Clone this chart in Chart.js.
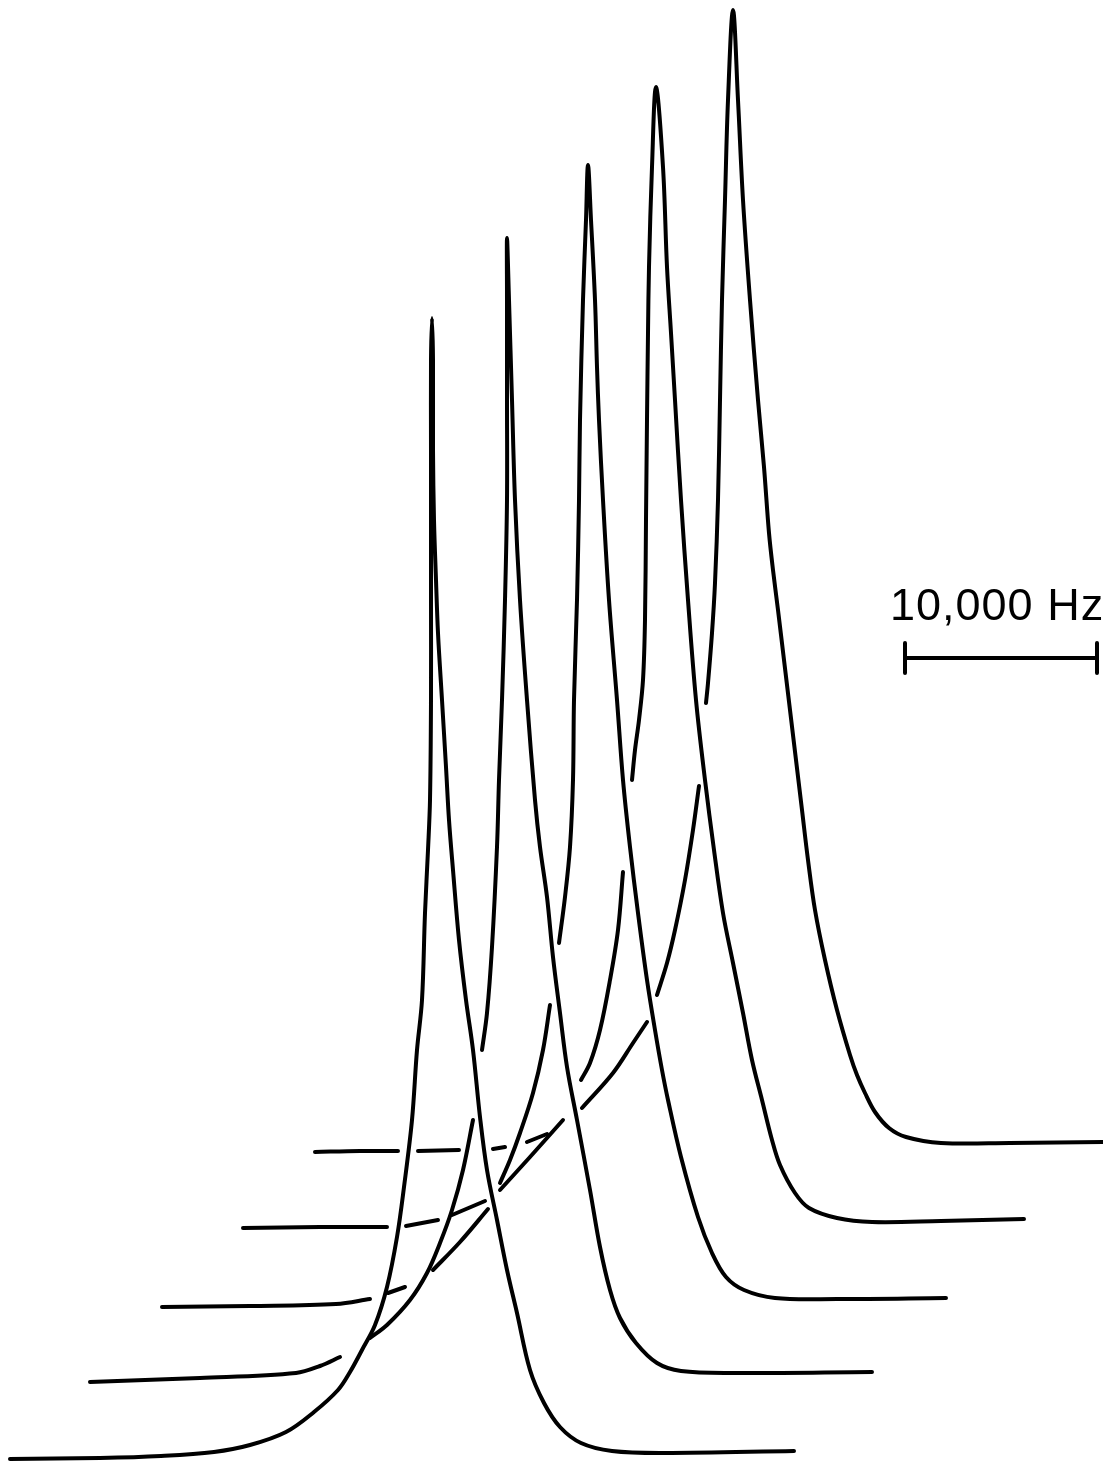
<!DOCTYPE html>
<html lang="en">
    <head>
        <meta charset="UTF-8" />
        <title>Stacked resonance traces</title>
        <script src="https://cdn.jsdelivr.net/npm/chart.js"></script>
        <style>
            html, body { margin: 0; padding: 0; background: #fff; }
            canvas { display: block; }
        </style>
    </head>
    <body>
        <canvas id="traces" width="1103" height="1464"></canvas>

        <script>
            // Five swept traces, front (1) to back (5). Plot units, x to the
            // right, y measured downward. null = pen lifted where a trace
            // passes behind a nearer one.
            const trace1X = [10, 100, 161, 214, 250, 286, 314, 338, 350, 362, 375, 387, 397, 404, 412, 417, 422, 425, 428, 430, 431, 431, 431, 431, 432,
                433, 433, 434, 436, 438, 442, 446, 449, 453, 459, 466, 473, 480, 487, 497, 507, 517, 530, 544, 560, 581, 612, 664, 794];
            const trace1Y = [1459, 1458, 1456, 1452, 1445, 1432, 1412, 1390, 1372, 1350, 1325, 1287, 1237, 1187, 1120, 1050, 1000, 913, 850, 800, 700, 600, 450, 360, 318,
                360, 450, 520, 580, 633, 700, 767, 820, 870, 940, 1000, 1050, 1117, 1170, 1220, 1270, 1313, 1370, 1403, 1427, 1443, 1451, 1453, 1451];

            const trace2X = [90, 200, 296, 320, 340, null,
                370, 387, 410, 427, 440, 452, 463, 473, null,
                482, 487, 492, 497, 499, 502, 505, 507, 507, 507, 507,
                509, 512, 515, 520, 527, 535, 540, 547, 553, 560, 567, 577, 590, 600, 610, 620, 636, 657, 681, 733, 872];
            const trace2Y = [1382, 1378, 1373, 1366, 1357, null,
                1338, 1325, 1300, 1273, 1243, 1210, 1170, 1120, null,
                1050, 1013, 947, 847, 780, 700, 600, 500, 400, 300, 238,
                300, 400, 500, 600, 700, 800, 847, 897, 957, 1013, 1067, 1120, 1190, 1247, 1290, 1318, 1343, 1363, 1371, 1373, 1372];

            const trace3X = [162, 250, 336, 370, null, 388, 405, null, 433, 460, 488, null,
                500, 510, 520, 533, 543, 550, null,
                559, 565, 570, 573, 574, 577, 579, 580, 583, 586, 588,
                591, 595, 597, 599, 603, 609, 617, 623, 630, 638, 647, 655, 662, 668, 681, 698, 712, 726, 744, 775, 837, 946];
            const trace3Y = [1307, 1306, 1304, 1299, null, 1293, 1287, null, 1270, 1242, 1209, null,
                1183, 1160, 1133, 1093, 1050, 1005, null,
                943, 897, 847, 780, 700, 600, 500, 420, 300, 220, 165,
                220, 300, 367, 420, 500, 600, 700, 780, 847, 913, 980, 1030, 1070, 1100, 1157, 1217, 1253, 1277, 1290, 1298, 1299, 1298];

            const trace4X = [243, 320, 387, null, 406, 438, null, 452, 485, null,
                500, 530, 563, null,
                581, 590, 600, 610, 618, 623, null,
                632, 635, 639, 643, 645, 646, 647, 648, 649, 652, 656,
                663, 667, 671, 675, 681, 688, 696, 705, 714, 723, 733, 743, 752, 762, 772, 780, 795, 809, 837, 872, 941, 1024];
            const trace4Y = [1228, 1227, 1227, null, 1226, 1220, null, 1215, 1201, null,
                1190, 1157, 1120, null,
                1080, 1063, 1030, 980, 930, 872, null,
                780, 750, 720, 680, 620, 520, 420, 333, 267, 167, 87,
                167, 267, 333, 400, 500, 600, 700, 780, 850, 913, 963, 1013, 1060, 1100, 1140, 1165, 1193, 1208, 1218, 1222, 1221, 1219];

            const trace5X = [315, 360, 398, null, 418, 459, null, 493, 505, null, 527, 547, null,
                582, 613, 633, 647, null,
                657, 667, 675, 685, 693, 699, null,
                706, 708, 712, 715, 718, 720, 722, 725, 728, 733,
                738, 743, 750, 758, 764, 769, 773, 778, 784, 790, 796, 802, 808, 815, 825, 837, 850, 857, 865, 875, 889, 906, 941, 1010, 1103];
            const trace5Y = [1152, 1151, 1151, null, 1151, 1150, null, 1149, 1147, null, 1142, 1134, null,
                1108, 1073, 1043, 1022, null,
                995, 963, 930, 880, 830, 786, null,
                703, 683, 633, 583, 500, 400, 300, 200, 100, 10,
                100, 200, 300, 400, 467, 533, 570, 610, 660, 710, 760, 810, 860, 910, 960, 1010, 1055, 1075, 1093, 1112, 1128, 1137, 1143, 1143, 1142];

            // scale bar: 10,000 Hz
            const barX = [905, 905, null, 905, 1097, null, 1097, 1097];
            const barY = [643, 673, null, 658, 658, null, 643, 673];
            const barLabel = "10,000 Hz";
            const labelX = 890;
            const labelY = 620;

            function toPoints(xs, ys) {
                return xs.map((x, i) => ({ x: x, y: ys[i] }));
            }

            const traces = [
                [trace1X, trace1Y],
                [trace2X, trace2Y],
                [trace3X, trace3Y],
                [trace4X, trace4Y],
                [trace5X, trace5Y],
            ];

            const datasets = traces.map(([xs, ys]) => ({
                data: toPoints(xs, ys),
                showLine: true,
                borderColor: "#000",
                borderWidth: 4,
                borderCapStyle: "round",
                borderJoinStyle: "round",
                tension: 0.35,
                pointRadius: 0,
                spanGaps: false,
            }));

            datasets.push({
                data: toPoints(barX, barY),
                showLine: true,
                borderColor: "#000",
                borderWidth: 4,
                borderCapStyle: "round",
                tension: 0,
                pointRadius: 0,
                spanGaps: false,
            });

            const labelPlugin = {
                id: "barLabel",
                afterDatasetsDraw(chart) {
                    const ctx = chart.ctx;
                    const x = chart.scales.x.getPixelForValue(labelX);
                    const y = chart.scales.y.getPixelForValue(labelY);
                    ctx.save();
                    ctx.fillStyle = "#000";
                    ctx.font = "45px 'Liberation Sans', Arial, sans-serif";
                    ctx.letterSpacing = "1px";
                    ctx.textAlign = "left";
                    ctx.textBaseline = "alphabetic";
                    ctx.fillText(barLabel, x, y);
                    ctx.restore();
                },
            };

            new Chart(document.getElementById("traces"), {
                type: "scatter",
                data: { datasets: datasets },
                options: {
                    responsive: false,
                    animation: false,
                    layout: { padding: 0 },
                    plugins: {
                        legend: { display: false },
                        tooltip: { enabled: false },
                    },
                    scales: {
                        x: { type: "linear", min: 0, max: 1103, display: false },
                        y: { type: "linear", min: 0, max: 1464, reverse: true, display: false },
                    },
                },
                plugins: [labelPlugin],
            });
        </script>
    </body>
</html>
